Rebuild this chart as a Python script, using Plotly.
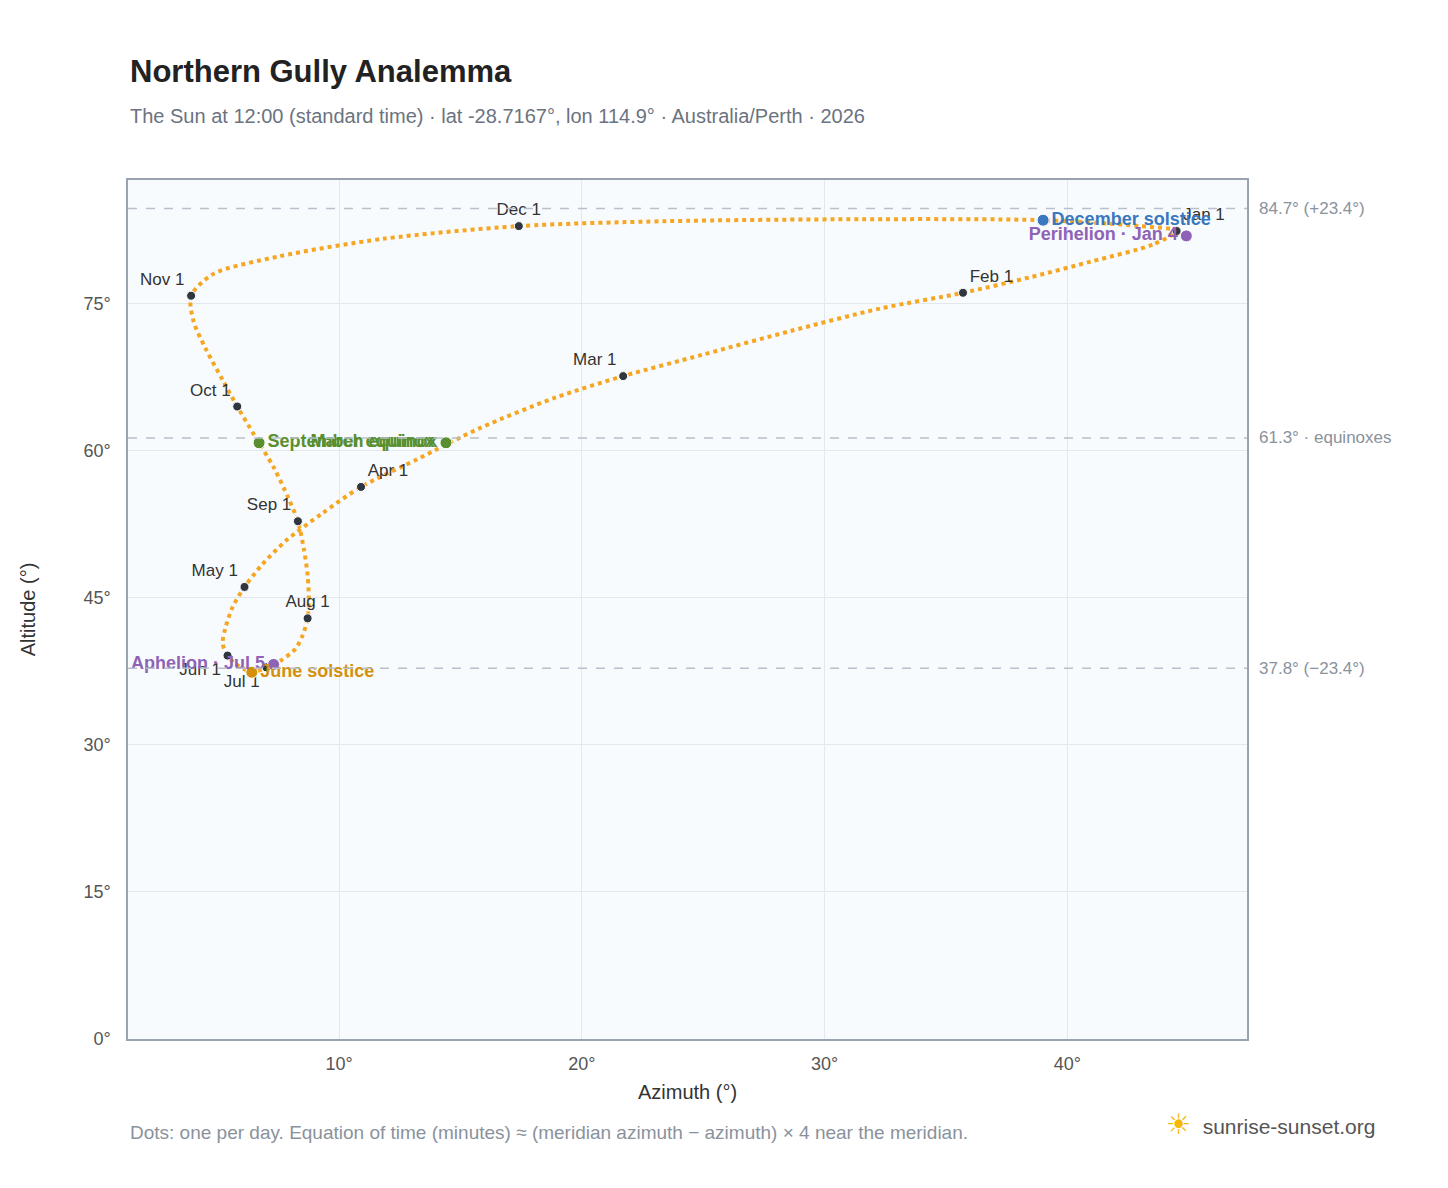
import plotly.graph_objects as go

# path of the sun, read roughly weekly from the reference (azimuth, altitude)
path_az = [44.5, 43.5, 41.0, 38.5, 35.7, 32.3, 28.6, 25.0, 21.7, 18.9, 15.8, 13.2,
           10.9, 9.3, 7.8, 6.8, 6.1, 5.6, 5.3, 5.2, 5.4, 5.7, 6.1, 6.4, 6.6,
           7.0, 7.6, 8.2, 8.5, 8.7, 8.75, 8.7, 8.55, 8.3, 7.9, 7.3, 6.5,
           5.8, 5.2, 4.5, 4.0, 3.9, 4.8, 7.5, 11.8, 17.4, 23.5, 31.5, 39.0, 43.0, 44.5]
path_alt = [82.4, 81.0, 79.3, 77.7, 76.1, 74.5, 72.2, 69.8, 67.6, 65.4, 62.3, 59.1,
            56.3, 53.6, 50.8, 48.3, 46.1, 44.0, 41.8, 40.3, 39.1, 38.3, 37.7, 37.4, 37.5,
            37.9, 38.6, 39.8, 41.2, 42.9, 44.8, 47.3, 49.9, 52.8, 55.2, 58.3, 61.6,
            64.5, 67.2, 70.4, 73.2, 75.8, 78.0, 79.8, 81.6, 82.9, 83.4, 83.6, 83.5, 82.9, 82.4]

months = ["Jan 1", "Feb 1", "Mar 1", "Apr 1", "May 1", "Jun 1",
          "Jul 1", "Aug 1", "Sep 1", "Oct 1", "Nov 1", "Dec 1"]
month_az = [44.5, 35.7, 21.7, 10.9, 6.1, 5.4, 7.0, 8.7, 8.3, 5.8, 3.9, 17.4]
month_alt = [82.4, 76.1, 67.6, 56.3, 46.1, 39.1, 37.9, 42.9, 52.8, 64.5, 75.8, 82.9]
month_pos = ["top right", "top right", "top left", "top right", "top left", "bottom left",
             "bottom left", "top center", "top left", "top left", "top left", "top center"]

events = ["December solstice", "Perihelion · Jan 4", "June solstice",
          "Aphelion · Jul 5", "March equinox", "September equinox"]
event_az = [39.0, 44.9, 6.4, 7.3, 14.4, 6.7]
event_alt = [83.5, 81.9, 37.4, 38.2, 60.8, 60.8]
event_colors = ["#3a78c0", "#8e63b5", "#d4900a", "#8e63b5", "#5a8f30", "#5a8f30"]
event_pos = ["middle right", "middle left", "middle right", "middle left", "middle left", "middle right"]

ref_lines = [84.7, 61.3, 37.8]
ref_labels = ["84.7° (+23.4°)", "61.3° · equinoxes", "37.8° (−23.4°)"]

x_ticks = [10, 20, 30, 40]
y_ticks = [0, 15, 30, 45, 60, 75]

fig = go.Figure()

fig.add_trace(go.Scatter(
    x=path_az, y=path_alt, mode="lines",
    line=dict(color="#f5a623", width=4, dash="dot", shape="spline", smoothing=0.8),
    hoverinfo="skip"))

fig.add_trace(go.Scatter(
    x=month_az, y=month_alt, mode="markers+text", text=months, textposition=month_pos,
    marker=dict(color="#2f3640", size=9, line=dict(color="white", width=1)),
    textfont=dict(size=17, color="#333")))

fig.add_trace(go.Scatter(
    x=event_az, y=event_alt, mode="markers+text", text=events, textposition=event_pos,
    marker=dict(color=event_colors, size=12, line=dict(color="white", width=1)),
    textfont=dict(size=18, color=event_colors, family="Liberation Sans, Arial", weight="bold")))

for v, lab in zip(ref_lines, ref_labels):
    fig.add_hline(y=v, line=dict(color="#b8c0cc", width=1.5, dash="dash"))
    fig.add_annotation(x=1, xref="paper", y=v, yref="y", text=lab, showarrow=False,
                       xanchor="left", xshift=10, font=dict(size=17, color="#8a929c"))

axis_common = dict(gridcolor="#e3e8ee", zeroline=False, showline=True, linecolor="#9aa4b0",
                   mirror=True, linewidth=1.5, tickfont=dict(size=18, color="#555"),
                   automargin=False, ticks="outside", tickcolor="rgba(0,0,0,0)")

fig.update_layout(
    width=1448, height=1188,
    margin=dict(l=120, r=209, t=172, b=157),
    paper_bgcolor="white", plot_bgcolor="#f8fbfe",
    showlegend=False,
    font=dict(family="Liberation Sans, Arial", size=18, color="#555"),
    xaxis=dict(range=[1.3, 47.4], tickvals=x_ticks, ticktext=[f"{v}°" for v in x_ticks],
               ticklen=8,
               title=dict(text="Azimuth (°)", font=dict(size=20, color="#333"), standoff=12),
               **axis_common),
    yaxis=dict(range=[0, 87.6], tickvals=y_ticks, ticktext=[f"{v}°" for v in y_ticks],
               ticklen=12,
               title=dict(text="Altitude (°)", font=dict(size=20, color="#333"), standoff=42),
               **axis_common),
)

fig.add_annotation(x=0, xref="paper", xanchor="left", y=1.126, yref="paper", yanchor="middle",
                   showarrow=False, text="<b>Northern Gully Analemma</b>",
                   font=dict(size=31, color="#222"))
fig.add_annotation(x=0, xref="paper", xanchor="left", y=1.074, yref="paper", yanchor="middle",
                   showarrow=False,
                   text="The Sun at 12:00 (standard time) · lat -28.7167°, lon 114.9° · Australia/Perth · 2026",
                   font=dict(size=20, color="#6b7380"))
fig.add_annotation(x=0, xref="paper", xanchor="left", y=-0.109, yref="paper", yanchor="middle",
                   showarrow=False,
                   text="Dots: one per day. Equation of time (minutes) ≈ (meridian azimuth − azimuth) × 4 near the meridian.",
                   font=dict(size=19, color="#8a929c"))
fig.add_annotation(x=(1377 - 128) / 1119, xref="paper", xanchor="right", y=-0.1, yref="paper",
                   yanchor="middle", showarrow=False,
                   text="<span style='color:#f5b800;font-size:28px'>☀</span>  sunrise-sunset.org",
                   font=dict(size=21, color="#555"))

fig.write_html("out.html")
